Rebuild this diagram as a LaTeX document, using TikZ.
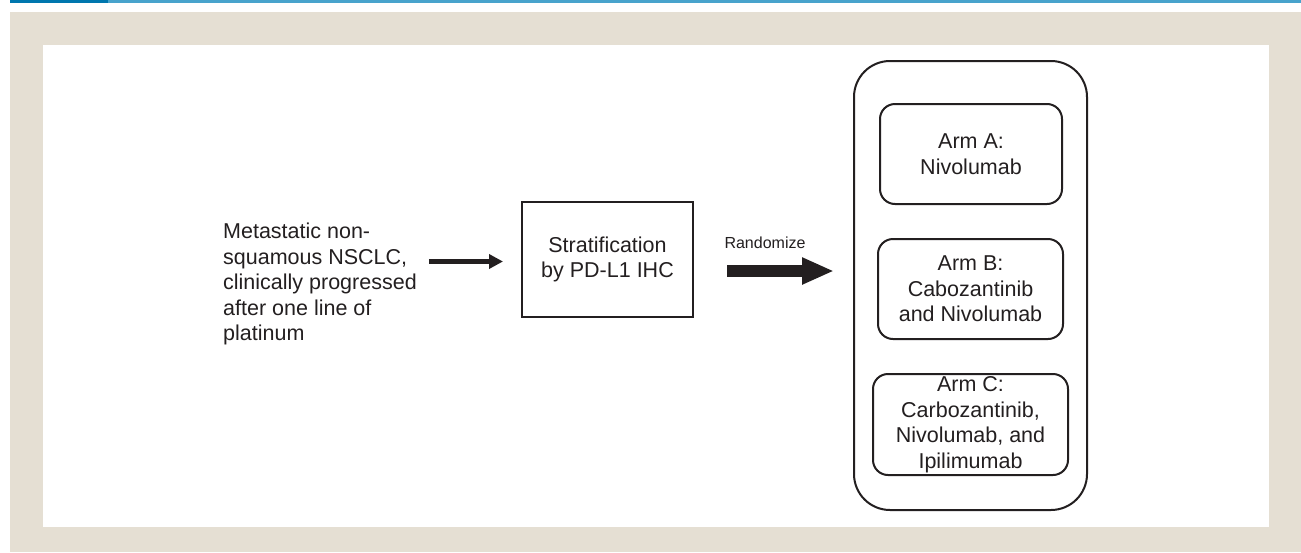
\documentclass[tikz,border=0pt]{standalone}
\usepackage{fontspec}
\setmainfont{Liberation Sans}
\usetikzlibrary{arrows.meta}
\definecolor{ink}{HTML}{231F20}
\definecolor{panel}{HTML}{E5DFD3}
\definecolor{barDark}{HTML}{0077AE}
\definecolor{barLight}{HTML}{48A3CC}
\tikzset{
  body/.style={font=\fontsize{21.5}{25.5}\selectfont, text=ink},
  stepbox/.style={draw=ink, line width=2pt, body, align=center, inner sep=0pt},
  armbox/.style={stepbox, rounded corners=15pt, minimum width=184pt, minimum height=100pt},
  thinarrow/.style={draw=ink, line width=4.5pt, -{Triangle[length=14pt,width=14pt]}},
  bigarrow/.style={draw=ink, line width=12pt, -{Triangle[length=32pt,width=25pt]}}
}
\begin{document}
\begin{tikzpicture}[x=1pt,y=-1pt]
  \useasboundingbox (0,0) rectangle (1301,552);
  % frame and header bar
  \fill[panel] (10,12) rectangle (1301,552);
  \fill[white] (43,45) rectangle (1269,527);
  \fill[barDark] (10,0) rectangle (108,3);
  \fill[barLight] (108,0) rectangle (1301,3);

  % patient population
  \node[body, anchor=west, align=left, inner sep=0pt] (pop) at (223,284)
    {Metastatic non-\\squamous NSCLC,\\clinically progressed\\after one line of\\platinum};

  % stratification step
  \node[stepbox, minimum width=171pt, minimum height=115pt] (strat) at (607.5,259.5)
    {Stratification\\by PD-L1 IHC};

  % treatment arms
  \node[stepbox, rounded corners=36pt, minimum width=233pt, minimum height=449pt] (arms) at (970.5,285.5) {};
  \node[armbox, minimum width=182pt] (armA) at (971,154) {Arm A:\\Nivolumab};
  \node[armbox, minimum width=185pt] (armB) at (970.5,289) {Arm B:\\Cabozantinib\\and Nivolumab};
  \node[armbox, minimum width=195pt, minimum height=101pt] (armC) at (970.5,424.5)
    {Arm C:\\Carbozantinib,\\Nivolumab, and\\Ipilimumab};

  % connectors
  \draw[thinarrow] ([xshift=12pt,yshift=-2pt]pop.east |- strat.west) -- ([xshift=-18pt,yshift=-2pt]strat.west);
  \coordinate (rs) at ([xshift=33pt,yshift=-11.5pt]strat.east);
  \coordinate (re) at ([xshift=-19pt]arms.west |- rs);
  \draw[bigarrow] (rs) -- (re);
  \node[font=\fontsize{16}{19}\selectfont, text=ink] (rand) at (765,243) {Randomize};
\end{tikzpicture}
\end{document}
